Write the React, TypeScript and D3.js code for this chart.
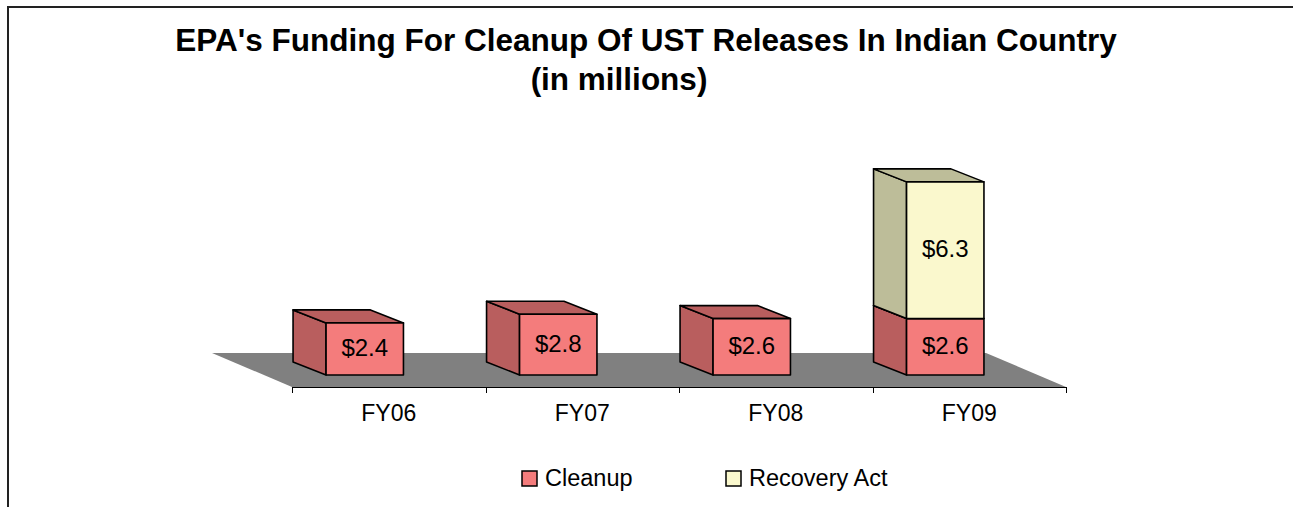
import React, { useEffect, useRef } from "react";
import * as d3 from "d3";

// chart values (millions)
const years = ["FY06", "FY07", "FY08", "FY09"];
const cleanup = [2.4, 2.8, 2.6, 2.6];
const recovery = [0, 0, 0, 6.3];
const seriesNames = ["Cleanup", "Recovery Act"];

const titleLines = [
  "EPA's Funding For Cleanup Of UST Releases In Indian Country",
  "(in millions)",
];

const W = 1293;
const H = 507;
const FONT = "'Liberation Sans', Arial, Helvetica, sans-serif";

const colors = {
  Cleanup: { front: "#F47C7C", side: "#B95E5E" },
  "Recovery Act": { front: "#FAF8CD", side: "#BDBD99" },
};

const App = () => {
  const svgRef = useRef<SVGSVGElement>(null);

  useEffect(() => {
    const svg = d3.select(svgRef.current);
    svg.selectAll("*").remove();

    // outer frame (chart area is clipped at right/bottom)
    svg
      .append("rect")
      .attr("x", 8)
      .attr("y", 7)
      .attr("width", W + 20)
      .attr("height", H + 20)
      .attr("fill", "white")
      .attr("stroke", "#222")
      .attr("stroke-width", 2);

    // title
    svg
      .append("text")
      .attr("font-family", FONT)
      .attr("font-weight", "bold")
      .attr("font-size", 31.5)
      .attr("text-anchor", "middle")
      .selectAll("tspan")
      .data(titleLines)
      .enter()
      .append("tspan")
      .attr("x", (d, i) => (i === 0 ? 646 : 619))
      .attr("y", (d, i) => 51 + i * 39)
      .text((d) => d);

    // scales
    const x = d3.scaleBand().domain(years).range([292, 1066]);
    const bw = x.bandwidth();
    const y = d3.scaleLinear().domain([0, 9]).range([375, 375 - 9 * 21.7]);

    // oblique depth offsets
    const floorDx = -80,
      floorDy = -34;
    const barDx = -33,
      barDy = -13;
    const floorFront = 387;

    // floor
    const [fx0, fx1] = x.range();
    svg
      .append("polygon")
      .attr(
        "points",
        [
          [fx0, floorFront],
          [fx1, floorFront],
          [fx1 + floorDx, floorFront + floorDy],
          [fx0 + floorDx, floorFront + floorDy],
        ]
          .map((p) => p.join(","))
          .join(" ")
      )
      .attr("fill", "#808080");

    // category axis
    const axis = svg.append("g").attr("stroke", "#000").attr("stroke-width", 1);
    axis
      .append("line")
      .attr("x1", fx0)
      .attr("x2", fx1)
      .attr("y1", floorFront + 0.5)
      .attr("y2", floorFront + 0.5);
    const edges = years.map((d) => x(d)!).concat([fx1]);
    axis
      .selectAll("line.tick")
      .data(edges)
      .enter()
      .append("line")
      .attr("class", "tick")
      .attr("x1", (d) => Math.round(d) + 0.5)
      .attr("x2", (d) => Math.round(d) + 0.5)
      .attr("y1", floorFront)
      .attr("y2", floorFront + 6);

    svg
      .append("g")
      .selectAll("text")
      .data(years)
      .enter()
      .append("text")
      .attr("x", (d) => x(d)! + bw / 2)
      .attr("y", 421)
      .attr("text-anchor", "middle")
      .attr("font-family", FONT)
      .attr("font-size", 23)
      .text((d) => d);

    // stacked 3D bars
    const stack = d3
      .stack<number>()
      .keys(seriesNames)
      .value((i, key) => (key === "Cleanup" ? cleanup[i] : recovery[i]));
    const layers = stack(d3.range(years.length));

    const pts = (p: number[][]) => p.map((q) => q.join(",")).join(" ");

    years.forEach((yr, i) => {
      const x0 = x(yr)! + bw * 0.176;
      const x1 = x0 + bw * 0.4;
      layers.forEach((layer) => {
        const [v0, v1] = layer[i];
        if (v1 - v0 <= 0) return;
        const c = colors[layer.key as keyof typeof colors];
        const yb = y(v0),
          yt = y(v1);
        const g = svg
          .append("g")
          .attr("stroke", "#000")
          .attr("stroke-width", 1.6)
          .attr("stroke-linejoin", "round");
        g.append("polygon")
          .attr(
            "points",
            pts([
              [x0, yt],
              [x0 + barDx, yt + barDy],
              [x0 + barDx, yb + barDy],
              [x0, yb],
            ])
          )
          .attr("fill", c.side);
        g.append("polygon")
          .attr(
            "points",
            pts([
              [x0, yt],
              [x1, yt],
              [x1 + barDx, yt + barDy],
              [x0 + barDx, yt + barDy],
            ])
          )
          .attr("fill", c.side);
        g.append("rect")
          .attr("x", x0)
          .attr("y", yt)
          .attr("width", x1 - x0)
          .attr("height", yb - yt)
          .attr("fill", c.front);
        svg
          .append("text")
          .attr("x", (x0 + x1) / 2)
          .attr("y", (yt + yb) / 2 + 7)
          .attr("text-anchor", "middle")
          .attr("font-family", FONT)
          .attr("font-size", 24)
          .text("$" + (v1 - v0).toFixed(1));
      });
    });

    // legend
    const legendX = [522, 726];
    const lg = svg
      .append("g")
      .selectAll("g")
      .data(seriesNames)
      .enter()
      .append("g")
      .attr("transform", (d, i) => `translate(${legendX[i]},471)`);
    lg.append("rect")
      .attr("width", 15)
      .attr("height", 15)
      .attr("fill", (d) => colors[d as keyof typeof colors].front)
      .attr("stroke", "#000")
      .attr("stroke-width", 1.5);
    lg.append("text")
      .attr("x", 23)
      .attr("y", 15)
      .attr("font-family", FONT)
      .attr("font-size", 23.5)
      .text((d) => d);
  }, []);

  return (
    <svg
      ref={svgRef}
      width={W}
      height={H}
      style={{ position: "absolute", left: 0, top: 0, display: "block" }}
    />
  );
};

export default App;
